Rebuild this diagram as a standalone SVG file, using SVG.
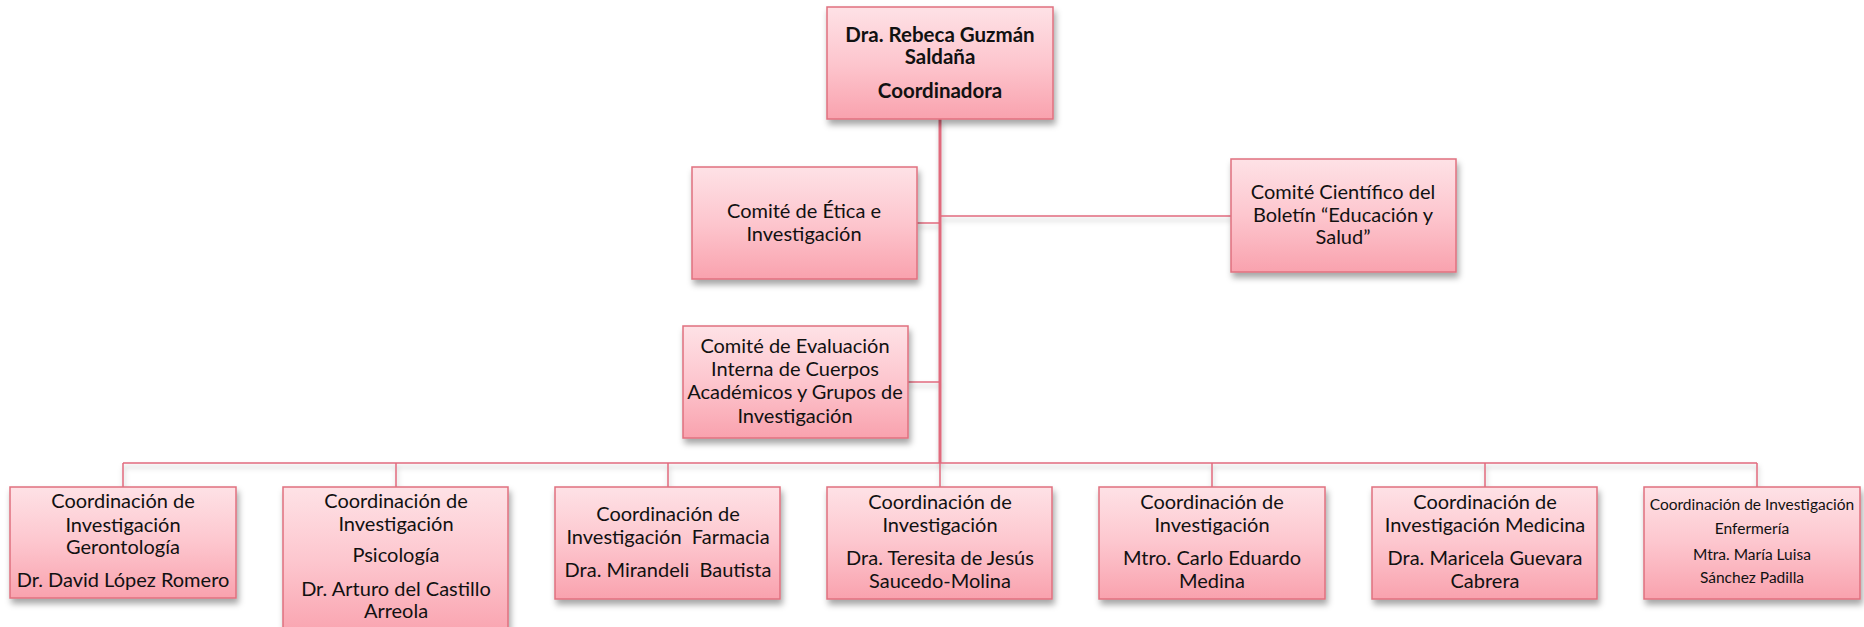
<svg xmlns="http://www.w3.org/2000/svg" width="1864" height="627" viewBox="0 0 1864 627">
<defs>
<linearGradient id="g" x1="0" y1="0" x2="0" y2="1">
<stop offset="0" stop-color="#fee2e6"/>
<stop offset="0.5" stop-color="#fdc6ce"/>
<stop offset="1" stop-color="#f9a2ae"/>
</linearGradient>
<filter id="sh" x="-10%" y="-10%" width="130%" height="140%">
<feDropShadow dx="2" dy="5" stdDeviation="3" flood-color="#000" flood-opacity="0.35"/>
</filter>
<filter id="lsh" x="-5%" y="-5%" width="110%" height="110%">
<feDropShadow dx="1" dy="4" stdDeviation="2.5" flood-color="#000" flood-opacity="0.25"/>
</filter>
</defs>
<style>
.box{fill:url(#g);stroke:#e0707f;stroke-width:1.5;filter:url(#sh)}
.t{font-family:Lato,"Open Sans","Liberation Sans",sans-serif;font-size:20px;fill:#111;text-anchor:middle}
.b{font-weight:bold;font-size:20.5px}
.s{font-size:15.5px}
.c{stroke:#e06a7c;stroke-width:1.5;fill:none}
.k{stroke-width:3}
</style>
<rect width="1864" height="627" fill="#fff"/>
<g id="connectors" filter="url(#lsh)">
<line class="c k" x1="940" y1="119" x2="940" y2="463"/>
<line class="c" x1="917" y1="223" x2="940" y2="223"/>
<line class="c" x1="940" y1="216" x2="1231" y2="216"/>
<line class="c" x1="908" y1="382" x2="940" y2="382"/>
<line class="c" x1="123" y1="463" x2="1757" y2="463"/>
<line class="c" x1="123" y1="463" x2="123" y2="487"/>
<line class="c" x1="396" y1="463" x2="396" y2="487"/>
<line class="c" x1="668" y1="463" x2="668" y2="487"/>
<line class="c" x1="940" y1="463" x2="940" y2="487"/>
<line class="c" x1="1212" y1="463" x2="1212" y2="487"/>
<line class="c" x1="1485" y1="463" x2="1485" y2="487"/>
<line class="c" x1="1757" y1="463" x2="1757" y2="487"/>
</g>
<g id="coordinadora">
<rect class="box" x="827" y="7" width="226" height="112"/>
<text class="t b" x="940" y="42">Dra. Rebeca Guzmán</text>
<text class="t b" x="940" y="64">Saldaña</text>
<text class="t b" x="940" y="98">Coordinadora</text>
</g>
<g id="comite-etica">
<rect class="box" x="692" y="167" width="225" height="112"/>
<text class="t" x="804" y="218">Comité de Ética e</text>
<text class="t" x="804" y="241">Investigación</text>
</g>
<g id="comite-cientifico">
<rect class="box" x="1231" y="159" width="225" height="113"/>
<text class="t" x="1343" y="199">Comité Científico del</text>
<text class="t" x="1343" y="222">Boletín “Educación y</text>
<text class="t" x="1343" y="244">Salud”</text>
</g>
<g id="comite-evaluacion">
<rect class="box" x="683" y="326" width="225" height="112"/>
<text class="t" x="795" y="353">Comité de Evaluación</text>
<text class="t" x="795" y="376">Interna de Cuerpos</text>
<text class="t" x="795" y="399">Académicos y Grupos de</text>
<text class="t" x="795" y="423">Investigación</text>
</g>
<g id="gerontologia">
<rect class="box" x="10" y="487" width="226" height="111"/>
<text class="t" x="123" y="508">Coordinación de</text>
<text class="t" x="123" y="532">Investigación</text>
<text class="t" x="123" y="554">Gerontología</text>
<text class="t" x="123" y="587">Dr. David López Romero</text>
</g>
<g id="psicologia">
<rect class="box" x="283" y="487" width="225" height="150"/>
<text class="t" x="396" y="508">Coordinación de</text>
<text class="t" x="396" y="531">Investigación</text>
<text class="t" x="396" y="562">Psicología</text>
<text class="t" x="396" y="596">Dr. Arturo del Castillo</text>
<text class="t" x="396" y="618">Arreola</text>
</g>
<g id="farmacia">
<rect class="box" x="555" y="487" width="225" height="112"/>
<text class="t" x="668" y="521">Coordinación de</text>
<text class="t" x="668" y="544" xml:space="preserve">Investigación  Farmacia</text>
<text class="t" x="668" y="577" xml:space="preserve">Dra. Mirandeli  Bautista</text>
</g>
<g id="nutricion">
<rect class="box" x="827" y="487" width="225" height="112"/>
<text class="t" x="940" y="509">Coordinación de</text>
<text class="t" x="940" y="532">Investigación</text>
<text class="t" x="940" y="565">Dra. Teresita de Jesús</text>
<text class="t" x="940" y="588">Saucedo-Molina</text>
</g>
<g id="odontologia">
<rect class="box" x="1099" y="487" width="226" height="112"/>
<text class="t" x="1212" y="509">Coordinación de</text>
<text class="t" x="1212" y="532">Investigación</text>
<text class="t" x="1212" y="565">Mtro. Carlo Eduardo</text>
<text class="t" x="1212" y="588">Medina</text>
</g>
<g id="medicina">
<rect class="box" x="1372" y="487" width="225" height="112"/>
<text class="t" x="1485" y="509">Coordinación de</text>
<text class="t" x="1485" y="532">Investigación Medicina</text>
<text class="t" x="1485" y="565">Dra. Maricela Guevara</text>
<text class="t" x="1485" y="588">Cabrera</text>
</g>
<g id="enfermeria">
<rect class="box" x="1644" y="487" width="216" height="112"/>
<text class="t s" x="1752" y="510">Coordinación de Investigación</text>
<text class="t s" x="1752" y="534">Enfermería</text>
<text class="t s" x="1752" y="560">Mtra. María Luisa</text>
<text class="t s" x="1752" y="583">Sánchez Padilla</text>
</g>
</svg>
